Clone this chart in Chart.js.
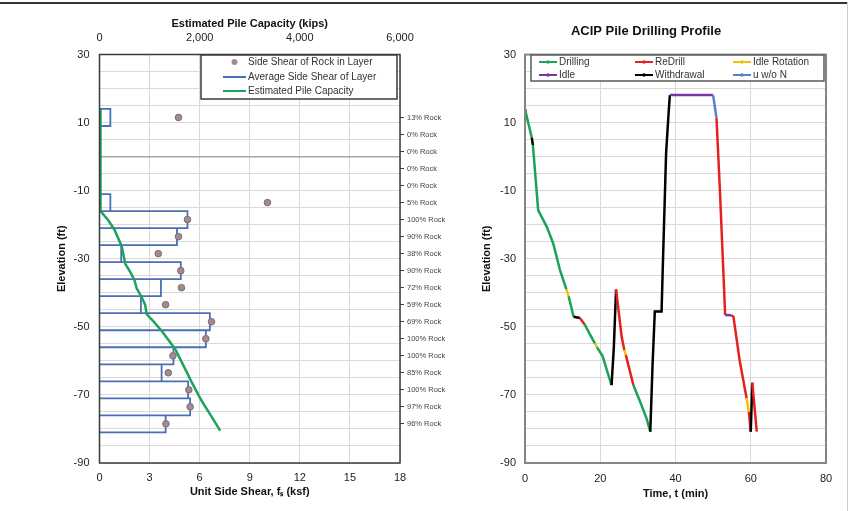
<!DOCTYPE html>
<html>
<head>
<meta charset="utf-8">
<script src="https://cdn.jsdelivr.net/npm/chart.js@4.4.1/dist/chart.umd.min.js"></script>
<style>
  html, body { margin: 0; padding: 0; background: #fff; }
  body { width: 858px; height: 511px; position: relative; overflow: hidden; }
  #frameTop { position: absolute; left: 0; top: 2px; width: 847px; height: 2px; background: #333; }
  #frameRight { position: absolute; left: 847px; top: 2px; width: 1px; height: 509px; background: #ccc; }
  .panel { position: absolute; top: 0; }
  #left { left: 0; }
  #right { left: 466px; }
</style>
</head>
<body>
<div id="frameTop"></div>
<div id="frameRight"></div>
<div class="panel" id="left"><canvas id="shearChart" width="452" height="511"></canvas></div>
<div class="panel" id="right"><canvas id="drillChart" width="392" height="511"></canvas></div>
<script>
// ---- left chart: side shear per 5 ft layer ----
const layerTopFt = [14, 9, 4, -1, -6, -11, -16, -21, -26, -31, -36, -41, -46, -51, -56, -61, -66, -71, -76];
const layerThickFt = 5;
const rockPct = [13, 0, 0, 0, 0, 5, 100, 90, 38, 90, 72, 59, 69, 100, 100, 85, 100, 97, 96];
const avgShearKsf = [0.65, 0, 0, 0, 0, 0.65, 5.27, 4.64, 1.3, 4.87, 3.68, 2.48, 6.61, 6.37, 4.43, 3.72, 5.31, 5.43, 3.96];
const rockShearKsf = [4.73, null, null, null, null, 10.06, 5.27, 4.73, 3.52, 4.87, 4.91, 3.96, 6.71, 6.37, 4.40, 4.12, 5.35, 5.43, 3.98];

// estimated pile capacity (top axis, kips)
const capElevFt = [14, -16, -18.6, -21.4, -26.3, -31.5, -33.8, -36.2, -38.7, -41.3, -43.5, -46.3, -48.4, -51.2, -56.5, -61.4, -66.3, -71.5, -76.5, -80.5];
const capKips = [10, 20, 170, 296, 443, 515, 610, 696, 742, 843, 910, 943, 1077, 1243, 1510, 1677, 1843, 2030, 2243, 2410];

const shearLegend = ['Side Shear of Rock in Layer', 'Average Side Shear of Layer', 'Estimated Pile Capacity'];

// ---- right chart: drilling profile ----
const drillTimeMin = [0.0, 0.15, 1.8, 2.1, 3.5, 5.8, 7.5, 9.3, 11.0, 11.6, 12.9, 14.6, 15.8, 18.6, 19.1, 20.6, 21.9, 23.0, 23.6, 24.2, 25.7, 26.4, 26.8, 28.8, 30.6, 32.3, 33.3, 33.9, 34.5, 36.3, 36.6, 37.5, 38.1, 38.5, 50.0, 50.9, 51.8, 52.7, 53.2, 54.8, 55.4, 57.1, 58.9, 59.5, 60.0, 60.4, 61.6];
const drillElevFt = [14.0, 13.3, 5.6, 3.4, -15.7, -20.6, -25.5, -33.3, -39.0, -41.0, -47.0, -47.4, -49.2, -54.9, -56.0, -58.5, -63.2, -67.1, -56.3, -39.0, -53.0, -56.8, -58.3, -67.1, -72.0, -76.9, -80.8, -61.2, -45.5, -45.5, -33.3, 1.0, 11.7, 18.1, 18.1, 11.3, -9.8, -33.3, -46.5, -46.6, -47.0, -60.2, -71.0, -75.0, -80.8, -66.4, -80.8];
// activity of the segment that starts at each point
const drillPhase = ['R', 'D', 'W', 'D', 'D', 'D', 'D', 'D', 'IR', 'D', 'W', 'R', 'D', 'IR', 'D', 'D', 'D', 'W', 'W', 'R', 'R', 'IR', 'R', 'D', 'D', 'D', 'W', 'W', 'W', 'W', 'W', 'W', 'W', 'I', 'U', 'R', 'R', 'R', 'I', 'R', 'R', 'R', 'IR', 'R', 'W', 'R', 'R'];
const phaseKeys = ['D', 'R', 'IR', 'I', 'W', 'U'];
const phaseNames = ['Drilling', 'ReDrill', 'Idle Rotation', 'Idle', 'Withdrawal', 'u w/o N'];
const phaseColors = ['#1ba35a', '#e3211f', '#f5c000', '#7a35a5', '#000000', '#5b80c8'];

Chart.defaults.font.family = '"Liberation Sans", Arial, sans-serif';
Chart.defaults.color = '#222';

const FONT_TICK = { size: 11 };
const FONT_TITLE = { size: 11, weight: 'bold' };
const GRID = '#d9d9d9';

function elevLabel(v) {
    return (30 - v) % 20 === 0 ? v : '';
}

// frame around the plot area
const plotFrame = {
    id: 'plotFrame',
    afterDatasetsDraw(chart, args, o) {
        const { ctx, chartArea: a } = chart;
        ctx.save();
        ctx.strokeStyle = o.color;
        ctx.lineWidth = o.width;
        ctx.strokeRect(a.left, a.top, a.right - a.left, a.bottom - a.top);
        ctx.restore();
    }
};

// excel-like legend box inside the plot
const boxLegend = {
    id: 'boxLegend',
    afterDraw(chart, args, o) {
        const ctx = chart.ctx;
        ctx.save();
        ctx.fillStyle = '#fff';
        ctx.fillRect(o.x, o.y, o.w, o.h);
        ctx.strokeStyle = o.borderColor;
        ctx.lineWidth = 1.5;
        ctx.strokeRect(o.x, o.y, o.w, o.h);
        ctx.font = '10px "Liberation Sans", Arial, sans-serif';
        ctx.textBaseline = 'middle';
        o.items.forEach(it => {
            if (it.line) {
                ctx.strokeStyle = it.color;
                ctx.lineWidth = 2;
                ctx.beginPath();
                ctx.moveTo(it.x, it.y);
                ctx.lineTo(it.x + o.lineLen, it.y);
                ctx.stroke();
            }
            if (it.dot) {
                ctx.fillStyle = it.color;
                ctx.beginPath();
                ctx.arc(it.x + o.lineLen / 2, it.y, it.dot, 0, Math.PI * 2);
                ctx.fill();
            }
            ctx.fillStyle = '#333';
            ctx.fillText(it.text, it.x + o.lineLen + 2, it.y);
        });
        ctx.restore();
    }
};

// box outline path, one rectangle per layer starting at fs = 0
const boxPath = [];
layerTopFt.forEach((top, i) => {
    const bot = top - layerThickFt;
    const w = avgShearKsf[i];
    boxPath.push({ x: 0, y: top }, { x: w, y: top }, { x: w, y: bot }, { x: 0, y: bot });
});
const rockPoints = [];
layerTopFt.forEach((top, i) => {
    if (rockShearKsf[i] !== null) rockPoints.push({ x: rockShearKsf[i], y: top - layerThickFt / 2 });
});
const capPoints = capElevFt.map((e, i) => ({ x: capKips[i], y: e }));

new Chart(document.getElementById('shearChart'), {
    type: 'scatter',
    data: {
        datasets: [
            {
                label: shearLegend[0],
                data: rockPoints,
                pointRadius: 3.3,
                pointBackgroundColor: '#a38c91',
                pointBorderColor: '#7e6a6e',
                pointBorderWidth: 1,
                order: 0
            },
            {
                label: shearLegend[2],
                data: capPoints,
                xAxisID: 'x2',
                showLine: true,
                borderColor: '#1fa35c',
                borderWidth: 2.5,
                pointRadius: 0,
                order: 1
            },
            {
                label: shearLegend[1],
                data: boxPath,
                showLine: true,
                borderColor: '#4a6fb5',
                borderWidth: 1.8,
                pointRadius: 0,
                order: 2
            }
        ]
    },
    options: {
        responsive: false,
        animation: false,
        layout: { padding: 0 },
        scales: {
            x: {
                type: 'linear', position: 'bottom', min: 0, max: 18,
                ticks: { stepSize: 3, font: FONT_TICK, padding: 8 },
                grid: { color: GRID, drawTicks: false },
                border: { display: false },
                title: { display: true, text: 'Unit Side Shear, f\u209B (ksf)', font: FONT_TITLE, color: '#111', padding: { top: 0, bottom: 12 } },
                afterFit: s => { s.height = 48; }
            },
            x2: {
                type: 'linear', position: 'top', min: 0, max: 6000,
                ticks: { stepSize: 2000, font: FONT_TICK, padding: 10, callback: v => v.toLocaleString('en-US') },
                grid: { drawOnChartArea: false, drawTicks: false },
                border: { display: false },
                title: { display: true, text: 'Estimated Pile Capacity (kips)', font: FONT_TITLE, color: '#111', padding: { top: 17, bottom: 0 } },
                afterFit: s => { s.height = 54.5; }
            },
            y: {
                type: 'linear', position: 'left', min: -90, max: 30,
                ticks: { stepSize: 5, autoSkip: false, font: FONT_TICK, padding: 10, callback: elevLabel },
                grid: {
                    drawTicks: false,
                    color: c => (c.tick && c.tick.value === 0 ? '#a6a6a6' : GRID),
                    lineWidth: c => (c.tick && c.tick.value === 0 ? 1.5 : 1)
                },
                border: { display: false },
                title: { display: true, text: 'Elevation (ft)', font: FONT_TITLE, color: '#111', padding: { top: 55, bottom: 0 } },
                afterFit: s => { s.width = 99.5; }
            },
            y2: {
                type: 'linear', position: 'right', min: -90, max: 30,
                afterBuildTicks: s => { s.ticks = layerTopFt.map(t => ({ value: t - layerThickFt / 2 })); },
                ticks: {
                    autoSkip: false, padding: 3, color: '#444', font: { size: 7.5 },
                    callback: v => {
                        const i = layerTopFt.findIndex(t => Math.abs(t - layerThickFt / 2 - v) < 0.01);
                        return i < 0 ? '' : rockPct[i] + '% Rock';
                    }
                },
                grid: { drawOnChartArea: false, drawTicks: true, tickLength: 4, color: '#404040' },
                border: { display: false },
                afterFit: s => { s.width = 52; }
            }
        },
        plugins: {
            legend: { display: false },
            tooltip: { enabled: false },
            plotFrame: { color: '#3a3a3a', width: 1.5 },
            boxLegend: {
                x: 201, y: 55, w: 196, h: 44, lineLen: 23, borderColor: '#3a3a3a',
                items: [
                    { text: shearLegend[0], x: 223, y: 62, color: '#a38c91', dot: 3 },
                    { text: shearLegend[1], x: 223, y: 77, color: '#4a6fb5', line: true },
                    { text: shearLegend[2], x: 223, y: 91, color: '#1fa35c', line: true }
                ]
            }
        }
    },
    plugins: [plotFrame, boxLegend]
});

// ---- right chart ----
const drillPoints = drillTimeMin.map((t, i) => ({ x: t, y: drillElevFt[i] }));
const phaseColor = k => phaseColors[phaseKeys.indexOf(k)];
const legendCols = [73, 169, 267];
const legendRows = [62, 75];

new Chart(document.getElementById('drillChart'), {
    type: 'scatter',
    data: {
        datasets: [{
            label: 'profile',
            data: drillPoints,
            showLine: true,
            borderWidth: 2.5,
            pointRadius: 0,
            borderColor: phaseColors[0],
            segment: { borderColor: c => phaseColor(drillPhase[c.p0DataIndex]) }
        }]
    },
    options: {
        responsive: false,
        animation: false,
        layout: { padding: { right: 32 } },
        scales: {
            x: {
                type: 'linear', min: 0, max: 80,
                ticks: { stepSize: 20, font: FONT_TICK, padding: 9 },
                grid: { color: GRID, drawTicks: false },
                border: { display: false },
                title: { display: true, text: 'Time, t (min)', font: FONT_TITLE, color: '#111', padding: { top: 0, bottom: 10 } },
                afterFit: s => { s.height = 48; }
            },
            y: {
                type: 'linear', min: -90, max: 30,
                ticks: { stepSize: 5, autoSkip: false, font: FONT_TICK, padding: 9, callback: elevLabel },
                grid: { color: GRID, drawTicks: false },
                border: { display: false },
                title: { display: true, text: 'Elevation (ft)', font: FONT_TITLE, color: '#111', padding: { top: 14, bottom: 0 } },
                afterFit: s => { s.width = 59; }
            }
        },
        plugins: {
            legend: { display: false },
            tooltip: { enabled: false },
            title: {
                display: true, text: 'ACIP Pile Drilling Profile', color: '#111',
                font: { size: 13, weight: 'bold' }, padding: { top: 24, bottom: 15 }
            },
            plotFrame: { color: '#858585', width: 2 },
            boxLegend: {
                x: 65, y: 55, w: 293, h: 26, lineLen: 18, borderColor: '#5a5a5a',
                items: phaseNames.map((n, i) => ({
                    text: n, x: legendCols[i % 3], y: legendRows[Math.floor(i / 3)],
                    color: phaseColors[i], line: true, dot: 1.8
                }))
            }
        }
    },
    plugins: [plotFrame, boxLegend]
});
</script>
</body>
</html>
